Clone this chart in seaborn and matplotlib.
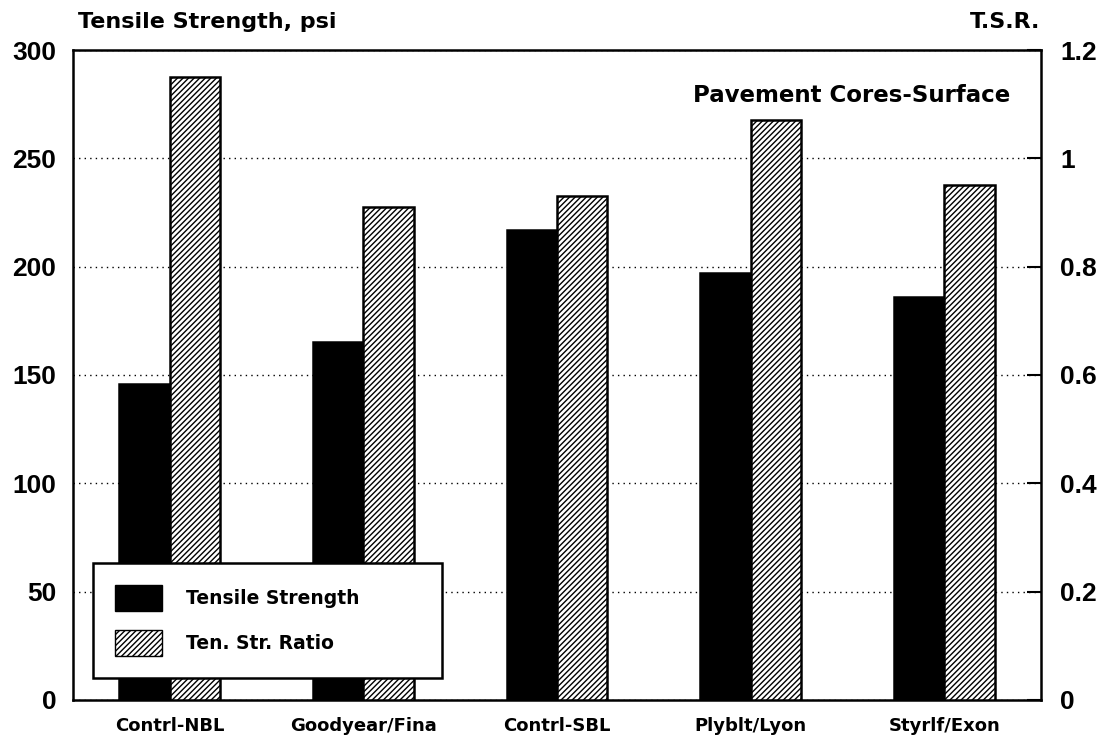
import numpy as np
import pandas as pd
import matplotlib
matplotlib.use("Agg")
import matplotlib.pyplot as plt
import seaborn as sns
from matplotlib.patches import Patch

# data
mixes = ['Contrl-NBL', 'Goodyear/Fina', 'Contrl-SBL', 'Plyblt/Lyon', 'Styrlf/Exon']
tensile_psi = [146, 165, 217, 197, 186]
tsr = [1.15, 0.91, 0.93, 1.07, 0.95]

PSI_MAX = 300
TSR_MAX = 1.2

sns.set_theme(style='white')
plt.rcParams['font.family'] = ['Liberation Sans', 'DejaVu Sans']
plt.rcParams['font.weight'] = 'bold'
plt.rcParams['text.color'] = 'black'
plt.rcParams['xtick.color'] = 'black'
plt.rcParams['ytick.color'] = 'black'
plt.rcParams['hatch.linewidth'] = 1.0

LABEL_FONT = ['DejaVu Sans']

# long-form table, TSR mapped onto the psi scale so both sit on one axis
scale = PSI_MAX / TSR_MAX
df = pd.DataFrame({
    'mix': mixes * 2,
    'series': ['Tensile Strength'] * 5 + ['Ten. Str. Ratio'] * 5,
    'value': list(tensile_psi) + [v * scale for v in tsr],
})

fig = plt.figure(figsize=(11.11, 7.43), dpi=100)
ax = fig.add_axes([0.0657, 0.0579, 0.8713, 0.8748])

sns.barplot(data=df, x='mix', y='value', hue='series', order=mixes,
            palette=['black', 'white'], width=0.52, gap=0, saturation=1,
            edgecolor='black', linewidth=1.8, legend=False, ax=ax, zorder=3)

# hatch the second series
n = len(mixes)
for i, p in enumerate(ax.patches[:2 * n]):
    if i >= n:
        p.set_hatch('//////')

ax.set_xlim(-0.5, n - 0.5)
ax.set_ylim(0, PSI_MAX)
ax.set_yticks(np.arange(0, 301, 50))
ax.set_xlabel('')
ax.set_ylabel('')
ax.tick_params(axis='y', length=0, labelsize=19, pad=12)
ax.tick_params(axis='x', length=0, pad=12)
for lab in ax.get_yticklabels():
    lab.set_fontweight('bold')
for lab in ax.get_xticklabels():
    lab.set_fontweight('bold')
    lab.set_family(LABEL_FONT)
    lab.set_fontsize(13)

ax.yaxis.grid(True, linestyle=(0, (1, 3)), color='black', linewidth=1.0, zorder=0)
ax.set_axisbelow(True)
for side in ['left', 'right', 'top', 'bottom']:
    ax.spines[side].set_color('black')
    ax.spines[side].set_linewidth(1.8)

ax2 = ax.twinx()
ax2.set_ylim(0, TSR_MAX)
ax2.set_yticks([0, 0.2, 0.4, 0.6, 0.8, 1.0, 1.2])
ax2.set_yticklabels(['0', '0.2', '0.4', '0.6', '0.8', '1', '1.2'])
ax2.tick_params(axis='y', direction='in', length=10, width=1.5, labelsize=19, pad=14)
for lab in ax2.get_yticklabels():
    lab.set_fontweight('bold')
for side in ['left', 'right', 'top', 'bottom']:
    ax2.spines[side].set_visible(False)

fig.text(0.070, 0.970, 'Tensile Strength, psi', fontsize=16, fontweight='bold',
         family=LABEL_FONT, ha='left', va='center')
fig.text(0.936, 0.970, 'T.S.R.', fontsize=16, fontweight='bold',
         family=LABEL_FONT, ha='right', va='center')
ax.text(0.968, 0.93, 'Pavement Cores-Surface', transform=ax.transAxes,
        fontsize=16.5, fontweight='bold', family=LABEL_FONT,
        ha='right', va='center')

handles = [Patch(facecolor='black', edgecolor='black'),
           Patch(facecolor='white', edgecolor='black', hatch='//////')]
leg = ax.legend(handles, ['Tensile Strength', 'Ten. Str. Ratio'],
                loc='lower left', bbox_to_anchor=(0.021, 0.034, 0.36, 0.18),
                mode='expand', frameon=True, fancybox=False, framealpha=1,
                edgecolor='black',
                prop={'weight': 'bold', 'size': 13.5, 'family': LABEL_FONT},
                handlelength=2.5, handleheight=1.8, handletextpad=1.3,
                labelspacing=1.0, borderpad=1.15, borderaxespad=0)
leg.get_frame().set_linewidth(1.8)
leg.set_zorder(5)

fig.savefig('out.png', dpi=100)
